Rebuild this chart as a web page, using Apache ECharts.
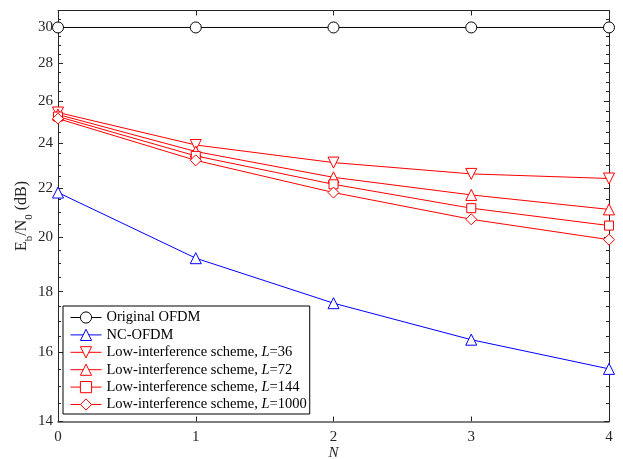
<!DOCTYPE html>
<html>
<head>
<meta charset="utf-8">
<script src="https://cdn.jsdelivr.net/npm/echarts@6/dist/echarts.min.js"></script>
<style>
  html, body { margin: 0; padding: 0; background: #fff; }
  #chart { width: 623px; height: 459px; }
</style>
</head>
<body>
<div id="chart"></div>
<script>
// Number of notched sub-carrier groups
const N = [0, 1, 2, 3, 4];

// Required Eb/N0 (dB) for each scheme
const originalOFDM = [30, 30, 30, 30, 30];
const ncOFDM = [21.8, 19.2, 17.6, 16.4, 15.5];
const lowL36 = [25.45, 23.9, 23.1, 22.6, 22.4];
const lowL72 = [25.35, 23.6, 22.45, 21.7, 21.1];
const lowL144 = [25.25, 23.4, 22.15, 21.15, 20.45];
const lowL1000 = [25.15, 23.2, 21.8, 20.7, 19.9];

// Logarithmic y axis: range, labelled ticks and minor ticks
const yMin = 14;
const yMax = 31;
const yMajorTicks = [14, 16, 18, 20, 22, 24, 26, 28, 30];
const yMinorTicks = [14.5, 15, 15.5, 16.5, 17, 17.5, 18.5, 19, 19.5, 20.5, 21, 21.5,
  22.5, 23, 23.5, 24.5, 25, 25.5, 26.5, 27, 27.5, 28.5, 29, 29.5, 30.5];

const FONT = '"Liberation Serif", "Times New Roman", serif';
const TXT = '#262626';
const lg = v => Math.log10(v);

function yAxisDef(position, ticks, len, showLine, showLabel) {
  return {
    type: 'value',
    position: position,
    min: lg(yMin),
    max: lg(yMax),
    splitLine: { show: false },
    axisLine: { show: showLine, lineStyle: { color: TXT, width: 1 } },
    axisTick: {
      show: true, inside: true, length: len,
      customValues: ticks.map(lg),
      lineStyle: { color: TXT, width: 1 }
    },
    axisLabel: showLabel ? {
      show: true,
      customValues: ticks.map(lg),
      formatter: v => String(Math.round(Math.pow(10, v))),
      fontFamily: FONT, fontSize: 15, color: TXT, margin: 5
    } : { show: false }
  };
}

const leftAxis = yAxisDef('left', yMajorTicks, 5, true, true);
leftAxis.name = '{t|E}{s|b}{t|/N}{s|0}{t| (dB)}';
leftAxis.nameLocation = 'middle';
leftAxis.nameGap = 26;
leftAxis.nameMoveOverlap = false;
leftAxis.nameTextStyle = {
  rich: {
    t: { fontFamily: FONT, fontSize: 16, color: TXT, lineHeight: 18, verticalAlign: 'top' },
    s: { fontFamily: FONT, fontSize: 11, color: TXT, lineHeight: 11, padding: [10, 0, 0, 0], verticalAlign: 'top' }
  }
};

function xAxisDef(position, showLabel) {
  const ax = {
    type: 'category',
    data: N,
    position: position,
    boundaryGap: false,
    axisLine: { show: true, lineStyle: { color: position === 'bottom' ? '#555' : TXT, width: position === 'bottom' ? 1.5 : 1 } },
    axisTick: { show: true, inside: true, length: 5, alignWithLabel: true, lineStyle: { color: TXT } },
    axisLabel: showLabel ? { show: true, fontFamily: FONT, fontSize: 15, color: TXT, margin: 8 } : { show: false },
    splitLine: { show: false }
  };
  if (showLabel) {
    ax.name = 'N';
    ax.nameLocation = 'middle';
    ax.nameGap = 24;
    ax.nameMoveOverlap = false;
    ax.nameTextStyle = { fontFamily: FONT, fontSize: 15, fontStyle: 'italic', color: TXT };
  }
  return ax;
}

function lineSeries(name, values, color, symbol, size) {
  return {
    type: 'line',
    name: name,
    data: values.map(lg),
    symbol: symbol,
    symbolSize: size,
    showAllSymbol: true,
    clip: false,
    lineStyle: { color: color, width: 1 },
    itemStyle: { color: '#fff', borderColor: color, borderWidth: 1 },
    emphasis: { disabled: true },
    animation: false
  };
}

const downTriangle = 'path://M0,0 L10,0 L5,10 Z';
const RED = '#ff0000';

const chart = echarts.init(document.getElementById('chart'), null, { renderer: 'canvas' });
chart.setOption({
  animation: false,
  backgroundColor: '#fff',
  grid: { left: 58, right: 14, top: 10.5, bottom: 37.5, containLabel: false, outerBoundsMode: 'none' },
  xAxis: [xAxisDef('bottom', true), xAxisDef('top', false)],
  yAxis: [
    leftAxis,
    yAxisDef('left', yMinorTicks, 3, false, false),
    yAxisDef('right', yMajorTicks, 5, true, false),
    yAxisDef('right', yMinorTicks, 3, false, false)
  ],
  legend: {
    orient: 'vertical',
    left: 63,
    top: 306,
    backgroundColor: '#fff',
    borderColor: '#000',
    borderWidth: 1,
    borderRadius: 0,
    padding: [4, 3, 2, 7],
    itemWidth: 31,
    itemHeight: 14,
    itemGap: 2.4,
    lineStyle: { width: 1 },
    itemStyle: { borderWidth: 1 },
    textStyle: {
      fontFamily: FONT, fontSize: 14.5, color: '#000', lineHeight: 14,
      rich: {
        i: { fontFamily: FONT, fontSize: 14.5, fontStyle: 'italic', color: '#000', lineHeight: 14 }
      }
    },
    formatter: name => name.replace('L=', '{i|L}='),
    selectedMode: false
  },
  series: [
    lineSeries('Original OFDM', originalOFDM, '#000', 'circle', 11),
    lineSeries('NC-OFDM', ncOFDM, '#0000ff', 'triangle', 11),
    lineSeries('Low-interference scheme, L=36', lowL36, RED, downTriangle, 11),
    lineSeries('Low-interference scheme, L=72', lowL72, RED, 'triangle', 11),
    lineSeries('Low-interference scheme, L=144', lowL144, RED, 'rect', 9),
    lineSeries('Low-interference scheme, L=1000', lowL1000, RED, 'diamond', 11)
  ]
});
</script>
</body>
</html>
